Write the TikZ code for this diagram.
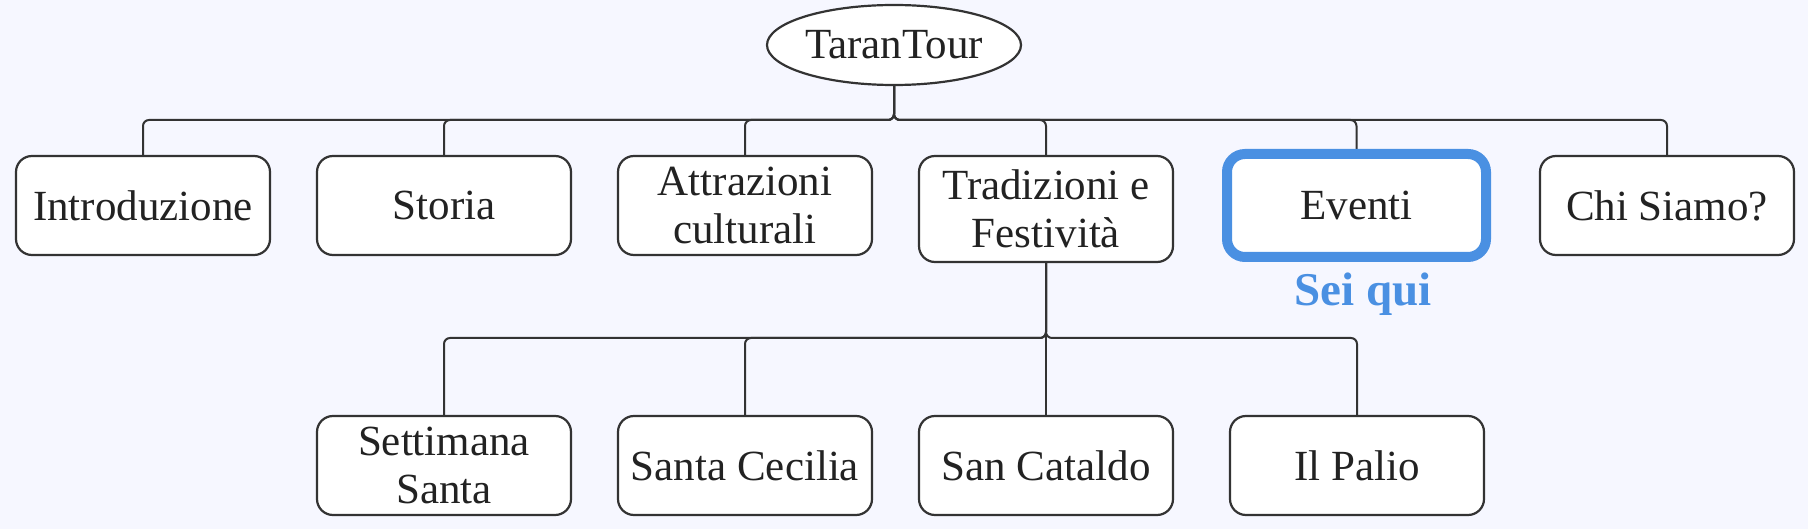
\documentclass[tikz,border=0pt]{standalone}
\usepackage{fontspec}
\setmainfont{Liberation Serif}
\usetikzlibrary{shapes.geometric,backgrounds}
\definecolor{bg}{HTML}{F6F7FF}
\definecolor{ln}{HTML}{333333}
\definecolor{tx}{HTML}{222222}
\definecolor{hl}{HTML}{4A90E2}
\begin{document}
\begin{tikzpicture}[x=1pt,y=-1pt,
  box/.style={draw=ln, line width=2.2pt, fill=white, rounded corners=16pt,
    minimum width=254pt, minimum height=99pt, inner sep=0pt, align=center,
    text=tx, font=\fontsize{43}{48}\selectfont},
  ell/.style={draw=ln, line width=2.2pt, fill=white, ellipse,
    minimum width=254pt, minimum height=80pt, inner sep=0pt,
    text=tx, font=\fontsize{43}{48}\selectfont},
  conn/.style={draw=ln, line width=2pt, rounded corners=6pt},
  here/.style={draw=hl, line width=10pt, fill=white, rounded corners=18pt,
    minimum width=259pt, minimum height=103pt, inner sep=0pt,
    text=tx, font=\fontsize{43}{48}\selectfont},
  lbl/.style={text=hl, font=\fontsize{47}{52}\selectfont\bfseries}]
\useasboundingbox (0,0) rectangle (1808,529);

\node[ell] (root) at (894,45) {TaranTour};

\node[box] (intro) at (143,205.5) {Introduzione};
\node[box] (storia) at (444,205.5) {Storia};
\node[box] (attr) at (745,205.5) {Attrazioni\\culturali};
\node[box, minimum height=106pt] (trad) at (1046,209) {Tradizioni e\\Festività};
\node[here] (eventi) at (1356.5,205.5) {Eventi};
\node[box] (chi) at (1667,205.5) {Chi Siamo?};
\node[lbl] (sei) at (1363,294) {Sei qui};

\node[box] (sett) at (444,465.5) {Settimana\\Santa};
\node[box] (cec) at (745,465.5) {Santa Cecilia};
\node[box] (cat) at (1046,465.5) {San Cataldo};
\node[box] (pal) at (1357,465.5) {Il Palio};

\coordinate (b1) at (894,120);
\coordinate (b2) at (1046,338);

\begin{scope}[on background layer]
\fill[bg] (0,0) rectangle (1808,529);
\foreach \c in {intro,storia,attr,trad,eventi,chi}
  \draw[conn] (root.south) -- (b1) -| (\c.north);
\foreach \c in {sett,cec,cat,pal}
  \draw[conn] (trad.south) -- (b2) -| (\c.north);
\end{scope}
\end{tikzpicture}
\end{document}
